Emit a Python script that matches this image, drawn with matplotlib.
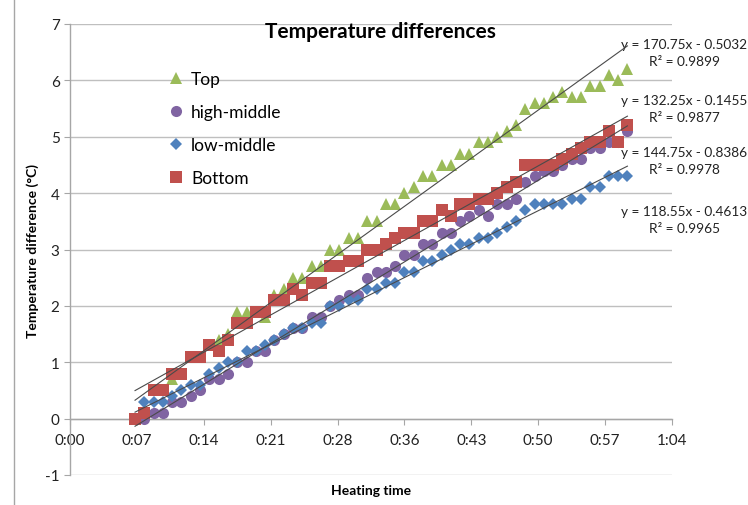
"""Temperature differences vs heating time, with linear trendlines."""

import numpy as np
import matplotlib
matplotlib.use("Agg")
import matplotlib.pyplot as plt
from matplotlib.lines import Line2D

plt.rcParams["font.family"] = ["Lato", "DejaVu Sans"]
plt.rcParams["axes.unicode_minus"] = False

# sampling times, minutes after start of heating
minutes = [7, 8, 9, 10, 11, 12, 13, 14, 15, 16, 17, 18, 19, 20, 21, 22, 23, 24,
           25, 26, 27, 28, 29, 30, 31, 32, 33, 34, 35, 36, 37, 38, 39, 40, 41, 42,
           43, 44, 45, 46, 47, 48, 49, 50, 51, 52, 53, 54, 55, 56, 57, 58, 59, 60]

top = [0.0, 0.1, 0.5, 0.5, 0.7, 0.8, 1.1, 1.1, 1.3, 1.4, 1.5, 1.9, 1.9, 1.9,
       1.8, 2.2, 2.3, 2.5, 2.5, 2.7, 2.7, 3.0, 3.0, 3.2, 3.2, 3.5, 3.5, 3.8,
       3.8, 4.0, 4.1, 4.3, 4.3, 4.5, 4.5, 4.7, 4.7, 4.9, 4.9, 5.0, 5.1, 5.2,
       5.5, 5.6, 5.6, 5.7, 5.8, 5.7, 5.7, 5.9, 5.9, 6.1, 6.0, 6.2]
high_middle = [0.0, 0.0, 0.1, 0.1, 0.3, 0.3, 0.4, 0.5, 0.7, 0.7, 0.8, 1.0, 1.0,
               1.2, 1.2, 1.4, 1.5, 1.6, 1.6, 1.8, 1.8, 2.0, 2.1, 2.2, 2.2, 2.5,
               2.6, 2.6, 2.7, 2.9, 2.9, 3.1, 3.1, 3.3, 3.3, 3.5, 3.6, 3.7, 3.6,
               3.8, 3.8, 3.9, 4.2, 4.3, 4.4, 4.4, 4.5, 4.6, 4.6, 4.8, 4.8, 4.9,
               4.9, 5.1]
low_middle = [0.0, 0.3, 0.3, 0.3, 0.4, 0.5, 0.6, 0.6, 0.8, 0.9, 1.0, 1.0, 1.2,
              1.2, 1.3, 1.4, 1.5, 1.6, 1.6, 1.7, 1.7, 2.0, 2.0, 2.1, 2.1, 2.3,
              2.3, 2.4, 2.4, 2.6, 2.6, 2.8, 2.8, 2.9, 3.0, 3.1, 3.1, 3.2, 3.2,
              3.3, 3.4, 3.5, 3.7, 3.8, 3.8, 3.8, 3.8, 3.9, 3.9, 4.1, 4.1, 4.3,
              4.3, 4.3]
bottom = [0.0, 0.1, 0.5, 0.5, 0.8, 0.8, 1.1, 1.1, 1.3, 1.2, 1.4, 1.7, 1.7, 1.9,
          1.9, 2.1, 2.1, 2.3, 2.2, 2.4, 2.4, 2.7, 2.7, 2.8, 2.8, 3.0, 3.0, 3.1,
          3.2, 3.3, 3.3, 3.5, 3.5, 3.7, 3.6, 3.8, 3.8, 3.9, 3.9, 4.0, 4.1, 4.2,
          4.5, 4.5, 4.5, 4.5, 4.6, 4.7, 4.8, 4.9, 4.9, 5.1, 4.9, 5.2]

series_names = ["Top", "high-middle", "low-middle", "Bottom"]
series_colors = ["#9BBB59", "#8064A2", "#4F81BD", "#C0504D"]
series_markers = ["^", "o", "D", "s"]
marker_sizes = [8.5, 8, 6.5, 8.5]

# Excel trendline coefficients (x in days), as printed on the chart
trend_slope = [170.75, 144.75, 118.55, 132.25]
trend_icept = [-0.5032, -0.8386, -0.4613, -0.1455]
trend_r2 = [0.9899, 0.9978, 0.9965, 0.9877]
# order in which the equations are stacked on the right
label_order = [0, 3, 1, 2]

x = np.array(minutes) / 1440.0  # Excel time serials (days)

fig = plt.figure(figsize=(7.48, 5.06), dpi=100)
ax = fig.add_axes([70 / 748, 30 / 506, 602 / 748, 451 / 506])

for vals, name, col, mk, ms in zip([top, high_middle, low_middle, bottom],
                                   series_names, series_colors,
                                   series_markers, marker_sizes):
    ax.plot(x, vals, linestyle="none", marker=mk, markersize=ms, color=col,
            markeredgewidth=0, label=name, zorder=3)

for k in range(4):
    xx = np.array([x[0], x[-1]])
    ax.plot(xx, trend_slope[k] * xx + trend_icept[k], color="#4a4a4a",
            lw=0.8, zorder=4)

label_y = [0.937, 0.8126, 0.697, 0.5676]
for pos, k in enumerate(label_order):
    txt = (f"y = {trend_slope[k]:.2f}x - {abs(trend_icept[k]):.4f}\n"
           f"R² = {trend_r2[k]:.4f}")
    ax.text(1.02, label_y[pos], txt, transform=ax.transAxes, ha="center",
            va="center", fontsize=9.8, linespacing=1.5, color="#222222",
            clip_on=False)

ax.set_xlim(0, 0.045)
ax.set_ylim(-1, 7)
ticks = np.arange(0, 0.0451, 0.005)
ax.set_xticks(ticks)
labels = []
for t in ticks:
    m = int(np.floor(t * 1440 + 1e-6))
    labels.append(f"{m // 60}:{m % 60:02d}")
ax.set_xticklabels(labels)
ax.set_yticks(range(-1, 8))

ax.spines["top"].set_visible(False)
ax.spines["right"].set_visible(False)
ax.spines["bottom"].set_position(("data", 0))
for s in ("left", "bottom"):
    ax.spines[s].set_color("#A6A6A6")
    ax.spines[s].set_linewidth(1.0)
ax.tick_params(axis="both", direction="out", length=4, color="#A6A6A6",
               labelsize=11, labelcolor="#222222")
ax.tick_params(axis="x", pad=6)
ax.yaxis.grid(True, color="#BFBFBF", lw=1.0)
ax.set_axisbelow(True)

fig.text(380 / 748, 1 - 32 / 506, "Temperature differences", fontsize=15,
         fontweight="bold", ha="center", va="center")
ax.set_xlabel("Heating time", fontsize=10, fontweight="bold")
ax.xaxis.set_label_coords(0.5, -0.02)
ax.set_ylabel("Temperature difference (°C)", fontsize=10, fontweight="bold")
ax.yaxis.set_label_coords(-0.052, 0.5)

ax.legend(loc="upper left", bbox_to_anchor=(0.135, 0.93), frameon=False,
          fontsize=12.5, handlelength=1.0, handletextpad=0.4,
          labelspacing=0.98)

fig.add_artist(Line2D([14 / 748, 14 / 748], [0, 1], color="#A6A6A6", lw=1))

fig.savefig("out.png", dpi=100)
